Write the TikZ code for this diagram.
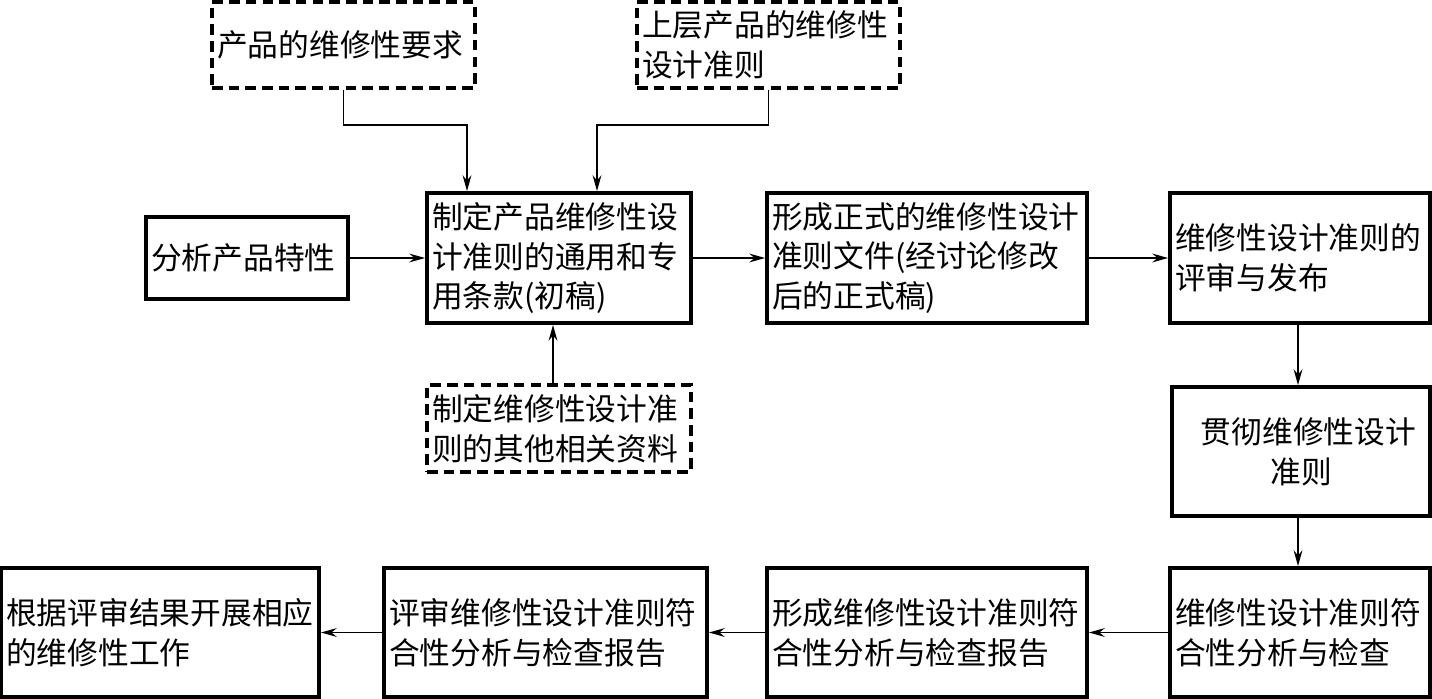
\documentclass[tikz,border=0pt]{standalone}
\usepackage{fontspec}
\setmainfont{Noto Sans CJK SC}
\usetikzlibrary{arrows.meta}
\tikzset{
  blk/.style={draw,line width=2.2pt,inner xsep=0.1cm,inner ysep=0pt,align=left},
  dblk/.style={blk,dash pattern=on 6pt off 3.5pt},
  lnk/.style={->,line width=0.8pt}
}
\begin{document}
\begin{tikzpicture}[x=0.02cm,y=-0.02cm,>={Stealth[length=9pt,width=5pt,inset=3pt]},font=\fontsize{17.5pt}{22.7pt}\selectfont]
  \useasboundingbox (0,0) rectangle (1432,699);
  % inputs
  \node[dblk,text width=5.06cm,minimum height=1.72cm] (req) at (343.5,45) {产品的维修性要求};
  \node[dblk,text width=5.06cm,minimum height=1.72cm] (upper) at (768.5,45) {上层产品的维修性\\设计准则};
  \node[blk,text width=3.84cm,minimum height=1.64cm] (ana) at (247,258) {分析产品特性};
  \node[dblk,text width=5.08cm,minimum height=1.74cm] (other) at (559,428.5) {制定维修性设计准\\则的其他相关资料};
  % upper row
  \node[blk,text width=5.08cm,minimum height=2.6cm] (draft) at (559,258) {制定产品维修性设\\计准则的通用和专\\用条款(初稿)};
  \node[blk,text width=6.2cm,minimum height=2.6cm] (formal) at (927,258) {形成正式的维修性设计\\准则文件(经讨论修改\\后的正式稿)};
  \node[blk,text width=5cm,minimum height=2.6cm] (review) at (1300,258) {维修性设计准则的\\评审与发布};
  \node[blk,align=center,text width=4.96cm,minimum height=2.58cm] (impl) at (1301,451.5) {\hspace*{0.3cm}贯彻维修性设计\\准则};
  % lower row
  \node[blk,text width=5cm,minimum height=2.58cm] (check) at (1300,632.5) {维修性设计准则符\\合性分析与检查};
  \node[blk,text width=6.2cm,minimum height=2.58cm] (report) at (927,632.5) {形成维修性设计准则符\\合性分析与检查报告};
  \node[blk,text width=6.26cm,minimum height=2.58cm] (rrev) at (545.5,632.5) {评审维修性设计准则符\\合性分析与检查报告};
  \node[blk,text width=6.16cm,minimum height=2.58cm] (work) at (160,632.5) {根据评审结果开展相应\\的维修性工作};
  % connectors
  \coordinate (j1) at (467,125);
  \coordinate (j2) at (597,125);
  \draw[lnk] (req.south) |- (j1) -- (j1 |- draft.north);
  \draw[lnk] (upper.south) |- (j2) -- (j2 |- draft.north);
  \draw[lnk] (ana) -- (draft);
  \draw[lnk] (other.north -| 553,0) -- (draft.south -| 553,0);
  \draw[lnk] (draft) -- (formal);
  \draw[lnk] (formal) -- (review);
  \draw[lnk] (review.south -| 1298,0) -- (impl.north -| 1298,0);
  \draw[lnk] (impl.south -| 1298,0) -- (check.north -| 1298,0);
  \draw[lnk] (check) -- (report);
  \draw[lnk] (report) -- (rrev);
  \draw[lnk] (rrev) -- (work);
\end{tikzpicture}
\end{document}
